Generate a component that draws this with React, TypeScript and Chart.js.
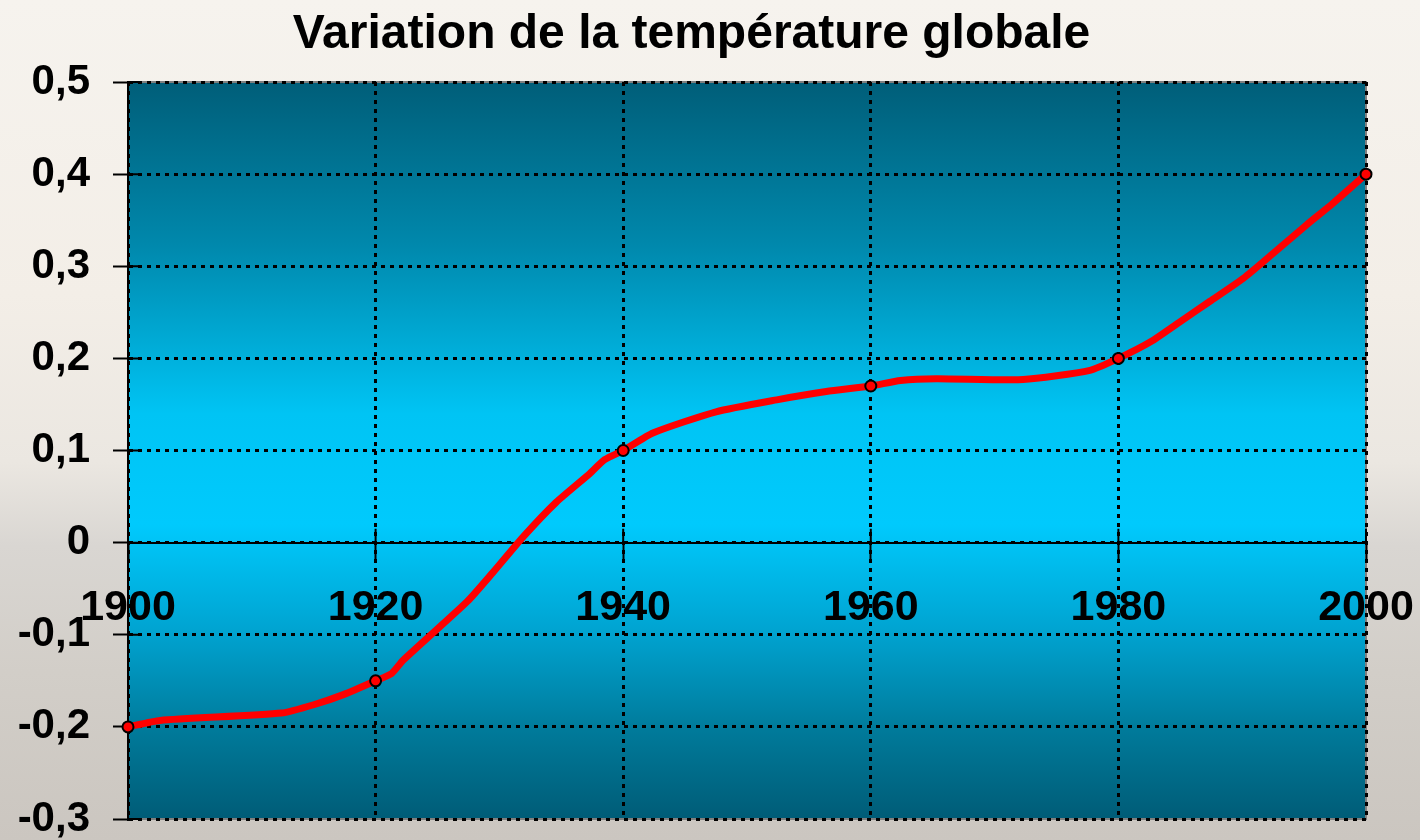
import React, { useEffect, useRef } from 'react';
import { Chart, registerables } from 'chart.js';

Chart.register(...registerables);

const TITLE = 'Variation de la température globale';

const YEARS = [
  1900, 1902.6, 1912.4, 1915, 1917.4, 1920, 1921.3, 1922.2, 1927.4, 1929.5,
  1931.9, 1934.6, 1937.3, 1938.5, 1940, 1942.4, 1947.5, 1952.4, 1956.4, 1960,
  1962.4, 1965.3, 1972.3, 1977.7, 1980, 1982.6, 1985, 1987.4, 1990.1, 1992.5,
  1995.2, 1997.3, 2000,
];
const VALUES = [
  -0.2, -0.193, -0.185, -0.176, -0.165, -0.15, -0.142, -0.128, -0.064, -0.032,
  0.006, 0.044, 0.075, 0.09, 0.1, 0.119, 0.142, 0.155, 0.164, 0.17,
  0.176, 0.178, 0.177, 0.187, 0.2, 0.218, 0.24, 0.262, 0.287, 0.314,
  0.345, 0.368, 0.4,
];
const MARKER_YEARS = [1900, 1920, 1940, 1960, 1980, 2000];

const X_MIN = 1900;
const X_MAX = 2000;
const X_STEP = 20;
const Y_MIN = -0.3;
const Y_MAX = 0.5;
const Y_STEP = 0.1;

const FONT = "'Liberation Sans', Arial, Helvetica, sans-serif";

const plotBackground = {
  id: 'plotBackground',
  beforeDraw(chart: any) {
    const { ctx, chartArea: a } = chart;
    const g = ctx.createLinearGradient(0, a.top, 0, a.bottom);
    g.addColorStop(0, '#005e79');
    g.addColorStop(0.22, '#0088ac');
    g.addColorStop(0.45, '#00c4f4');
    g.addColorStop(0.6, '#00cafd');
    g.addColorStop(0.75, '#00a2cf');
    g.addColorStop(0.88, '#007a9a');
    g.addColorStop(1, '#005c77');
    ctx.save();
    ctx.fillStyle = g;
    ctx.fillRect(a.left, a.top, a.right - a.left, a.bottom - a.top);
    ctx.strokeStyle = '#7f7f7f';
    ctx.lineWidth = 2;
    ctx.strokeRect(a.left, a.top, a.right - a.left, a.bottom - a.top);
    ctx.restore();
  },
};

const innerTicks = {
  id: 'innerTicks',
  beforeDatasetsDraw(chart: any) {
    const { ctx, chartArea: a } = chart;
    const xs = chart.scales.x;
    const ys = chart.scales.y;
    const zero = ys.getPixelForValue(0);
    ctx.save();
    ctx.strokeStyle = '#000';
    ctx.lineWidth = 2;
    ctx.setLineDash([]);
    ctx.beginPath();
    xs.ticks.forEach((t: any) => {
      const px = xs.getPixelForValue(t.value);
      ctx.moveTo(px, zero - 14);
      ctx.lineTo(px, zero);
    });
    ys.ticks.forEach((t: any) => {
      const py = ys.getPixelForValue(t.value);
      ctx.moveTo(a.left, py);
      ctx.lineTo(a.left + 14, py);
    });
    ctx.stroke();
    ctx.restore();
  },
};

export default function App() {
  const ref = useRef<HTMLCanvasElement | null>(null);

  useEffect(() => {
    document.body.style.margin = '0';
    document.body.style.overflow = 'hidden';
    const canvas = ref.current;
    if (!canvas) return;
    const points = YEARS.map((yr, i) => ({ x: yr, y: VALUES[i] }));
    const chart = new Chart(canvas, {
      type: 'line',
      data: {
        datasets: [
          {
            data: points,
            borderColor: '#ff0000',
            borderWidth: 7,
            tension: 0.2,
            clip: false,
            pointRadius: (c: any) => (MARKER_YEARS.includes(YEARS[c.dataIndex]) ? 5.5 : 0),
            pointHoverRadius: 0,
            pointBackgroundColor: '#ff0000',
            pointBorderColor: '#000000',
            pointBorderWidth: 2,
          },
        ],
      },
      plugins: [plotBackground, innerTicks],
      options: {
        responsive: false,
        animation: false,
        layout: { padding: { left: 17, right: 54, top: 0, bottom: 21 } },
        plugins: {
          legend: { display: false },
          tooltip: { enabled: false },
          title: {
            display: true,
            text: TITLE,
            color: '#000',
            font: { family: FONT, size: 48, weight: 'bold' },
            padding: { top: 6, bottom: 18.4 },
          },
        },
        scales: {
          x: {
            type: 'linear',
            min: X_MIN,
            max: X_MAX,
            position: { y: 0 } as any,
            afterFit: (s: any) => {
              s.paddingLeft = 0;
              s.paddingRight = 0;
            },
            ticks: {
              stepSize: X_STEP,
              color: '#000',
              padding: 25,
              maxRotation: 0,
              font: { family: FONT, size: 43, weight: 'bold' },
              callback: (v: any) => String(v),
            },
            grid: {
              color: '#000',
              lineWidth: 3,
              tickLength: 15,
              tickColor: '#000',
              tickWidth: 2,
              tickBorderDash: [],
            },
            border: { display: true, color: '#000', width: 2, dash: [4, 5] },
          },
          y: {
            type: 'linear',
            min: Y_MIN,
            max: Y_MAX,
            position: 'left',
            afterFit: (s: any) => {
              s.width = 111;
              s.paddingTop = 0;
              s.paddingBottom = 0;
            },
            ticks: {
              stepSize: Y_STEP,
              color: '#000',
              padding: 23,
              font: { family: FONT, size: 42, weight: 'bold' },
              callback: (v: any) => {
                const n = Math.round(Number(v) * 10) / 10;
                return n === 0 ? '0' : n.toFixed(1).replace('.', ',');
              },
            },
            grid: {
              color: '#000',
              lineWidth: 3,
              tickLength: 15,
              tickColor: '#000',
              tickWidth: 2,
              tickBorderDash: [],
            },
            border: { display: true, color: '#000', width: 2, dash: [4, 5] },
          },
        },
      },
    } as any);
    return () => chart.destroy();
  }, []);

  return (
    <div
      style={{
        position: 'fixed',
        left: 0,
        top: 0,
        width: 1420,
        height: 840,
        background:
          'linear-gradient(180deg, #f6f3ee 0%, #f3eee7 35%, #ebe7e1 55%, #d9d6d2 65%, #d2cec8 80%, #cbc6c0 100%)',
      }}
    >
      <canvas ref={ref} width={1420} height={840} style={{ display: 'block' }} />
    </div>
  );
}
